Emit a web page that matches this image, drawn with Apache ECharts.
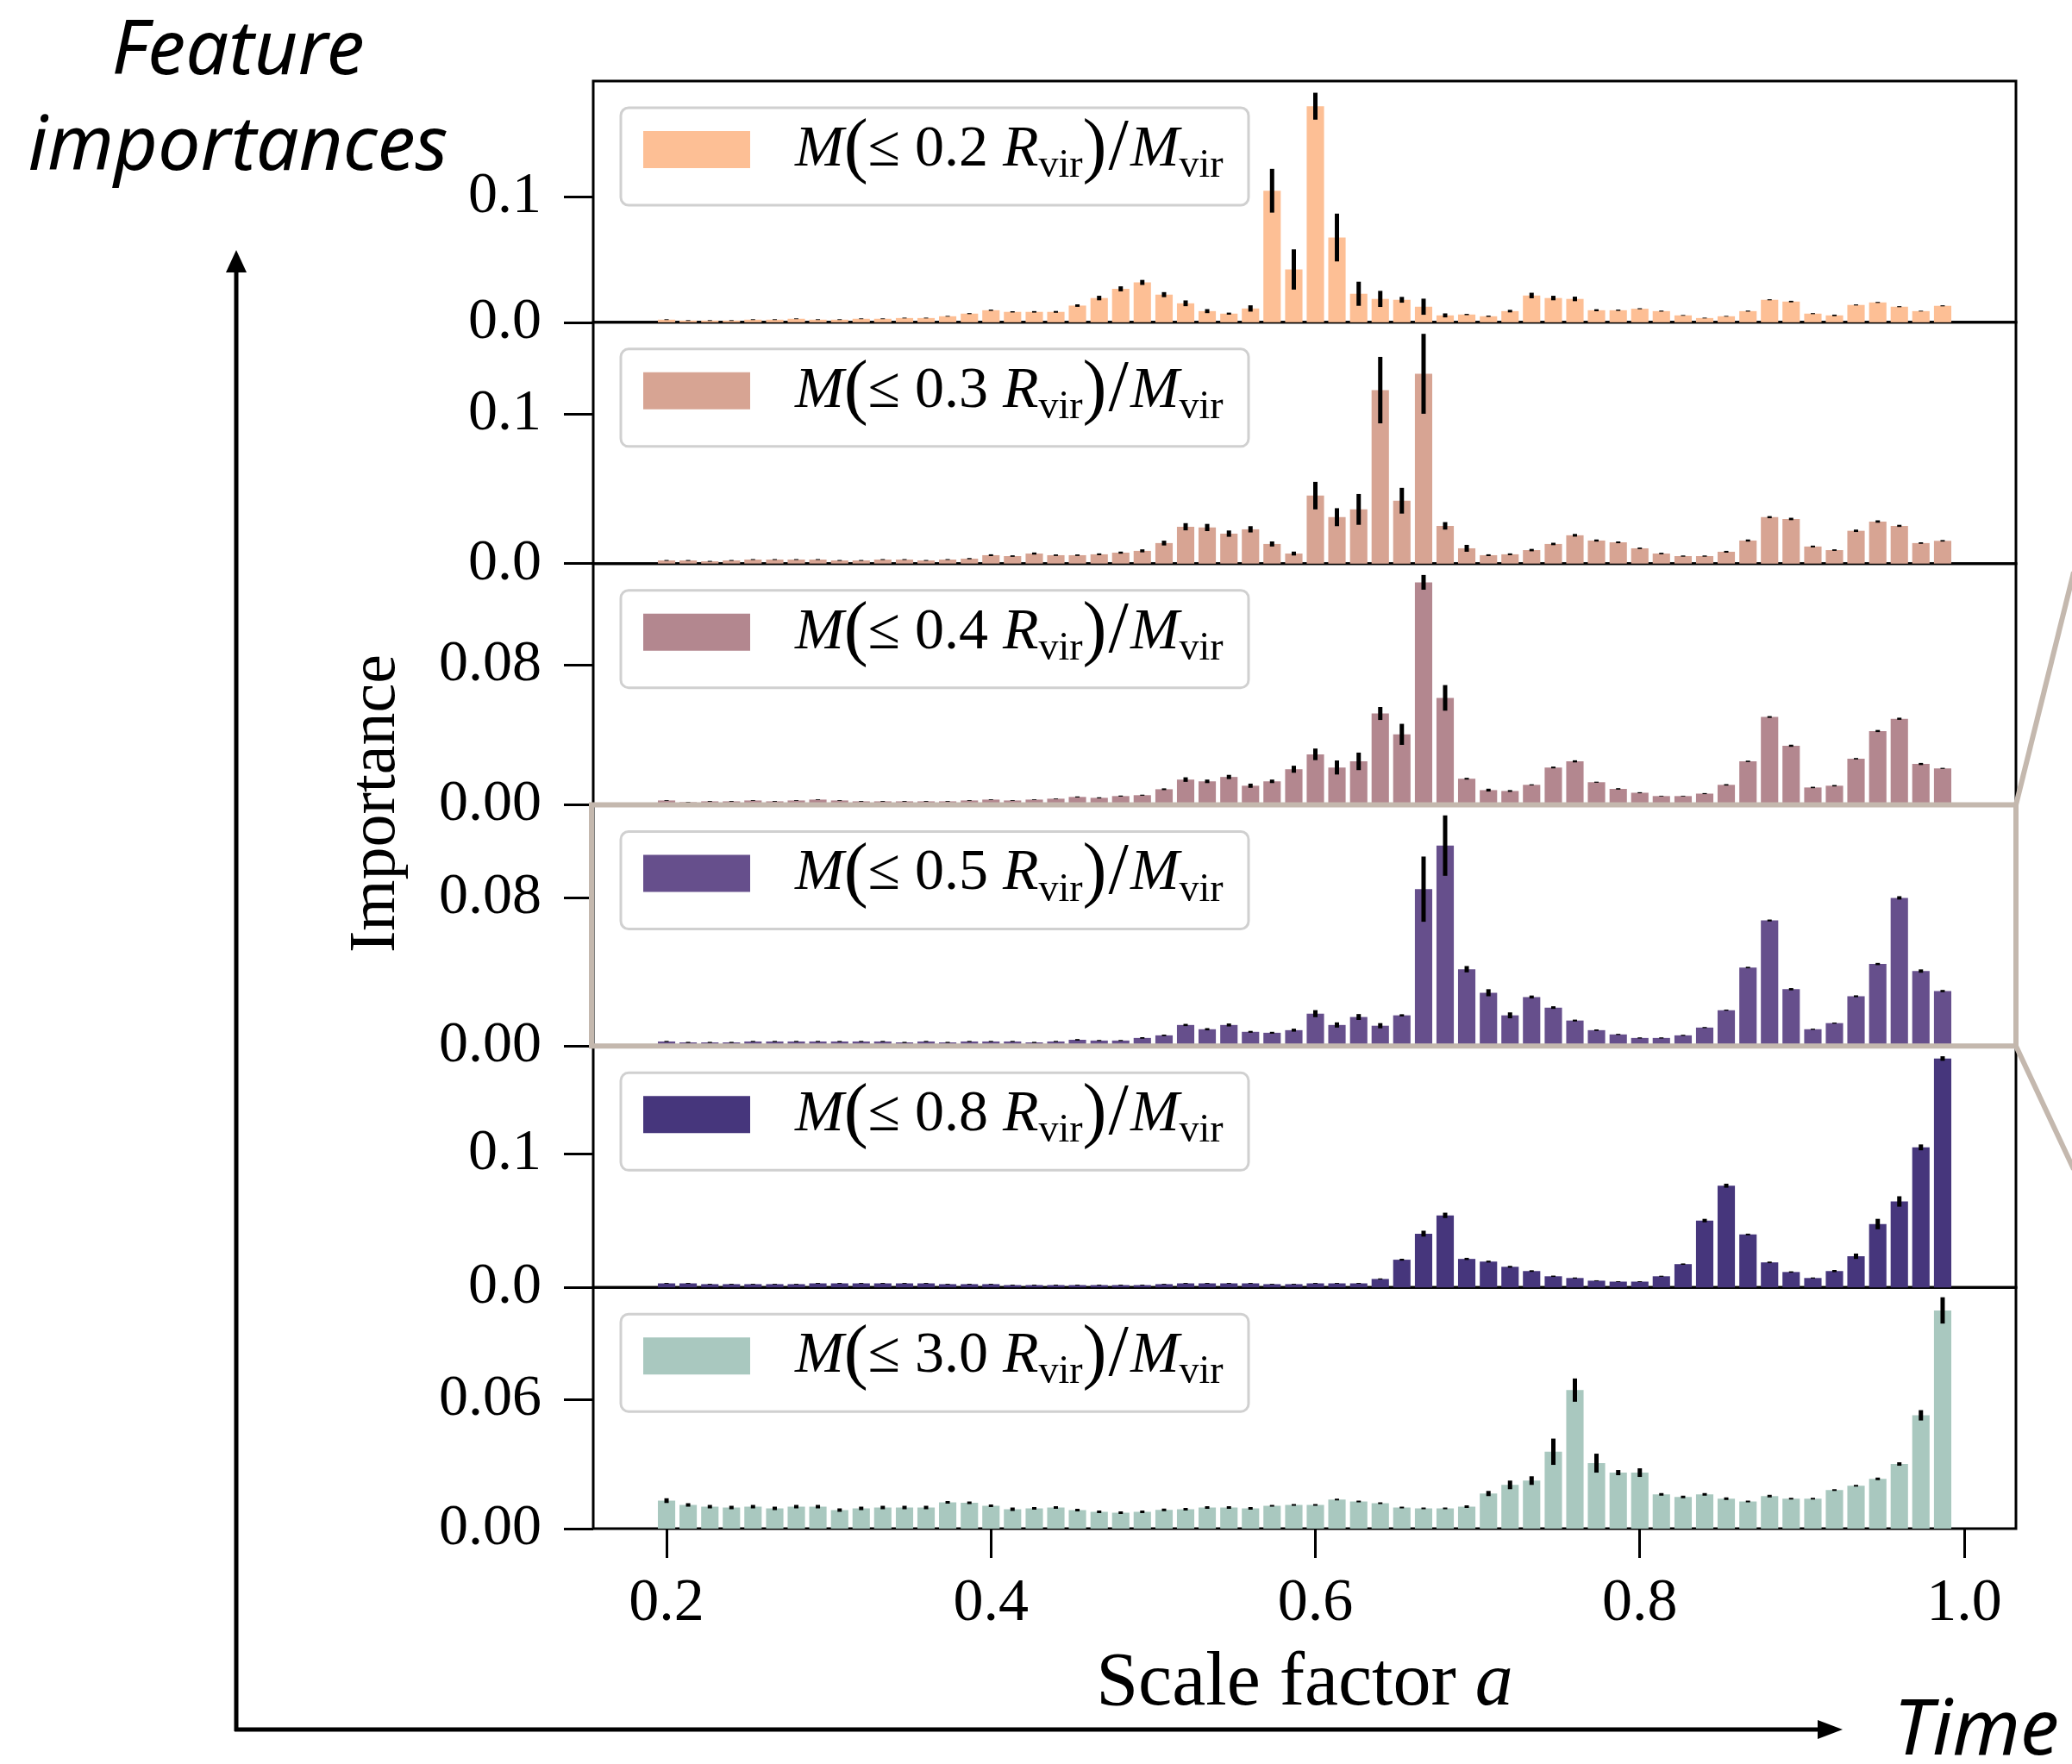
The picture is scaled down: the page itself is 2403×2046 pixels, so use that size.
<!DOCTYPE html>
<html><head><meta charset="utf-8">
<script src="https://cdn.jsdelivr.net/npm/echarts@6/dist/echarts.min.js"></script>
<style>html,body{margin:0;padding:0;background:#fff}#c{width:2403px;height:2046px}</style>
</head><body><div id="c"></div>
<script>
// ---------- data ----------
const scaleFactor = [0.2000,0.2133,0.2267,0.2400,0.2533,0.2667,0.2800,0.2933,0.3067,0.3200,
 0.3333,0.3467,0.3600,0.3733,0.3867,0.4000,0.4133,0.4267,0.4400,0.4533,
 0.4667,0.4800,0.4933,0.5067,0.5200,0.5333,0.5467,0.5600,0.5733,0.5867,
 0.6000,0.6133,0.6267,0.6400,0.6533,0.6667,0.6800,0.6933,0.7067,0.7200,
 0.7333,0.7467,0.7600,0.7733,0.7867,0.8000,0.8133,0.8267,0.8400,0.8533,
 0.8667,0.8800,0.8933,0.9067,0.9200,0.9333,0.9467,0.9600,0.9733,0.9867];
const xTicks = [0.2, 0.4, 0.6, 0.8, 1.0];
const radii = ['0.2', '0.3', '0.4', '0.5', '0.8', '3.0'];

const imp02 = [0.0021,0.0014,0.0014,0.0014,0.0021,0.0021,0.0028,0.0021,0.0021,0.0028,
 0.0028,0.0034,0.0034,0.0048,0.0069,0.0096,0.0083,0.0083,0.0083,0.0133,
 0.0193,0.0266,0.0317,0.0220,0.0151,0.0089,0.0069,0.0110,0.1046,0.0420,
 0.1718,0.0674,0.0227,0.0186,0.0179,0.0124,0.0055,0.0062,0.0048,0.0089,
 0.0213,0.0193,0.0186,0.0096,0.0096,0.0108,0.0089,0.0055,0.0034,0.0048,
 0.0089,0.0179,0.0165,0.0069,0.0055,0.0138,0.0158,0.0124,0.0089,0.0131];
const err02 = [0.0003,0.0003,0.0003,0.0003,0.0003,0.0003,0.0003,0.0003,0.0003,0.0003,
 0.0003,0.0003,0.0003,0.0003,0.0004,0.0005,0.0005,0.0006,0.0007,0.0010,
 0.0018,0.0020,0.0020,0.0020,0.0023,0.0016,0.0008,0.0025,0.0174,0.0160,
 0.0107,0.0190,0.0096,0.0064,0.0023,0.0064,0.0016,0.0005,0.0005,0.0010,
 0.0022,0.0018,0.0018,0.0008,0.0005,0.0004,0.0004,0.0003,0.0003,0.0003,
 0.0004,0.0004,0.0006,0.0004,0.0006,0.0004,0.0004,0.0004,0.0003,0.0004];

const imp03 = [0.0021,0.0021,0.0015,0.0021,0.0027,0.0027,0.0027,0.0027,0.0021,0.0021,
 0.0027,0.0027,0.0021,0.0027,0.0033,0.0056,0.0050,0.0067,0.0056,0.0056,
 0.0062,0.0073,0.0085,0.0137,0.0246,0.0241,0.0200,0.0229,0.0131,0.0067,
 0.0454,0.0310,0.0362,0.1159,0.0420,0.1268,0.0252,0.0102,0.0056,0.0062,
 0.0090,0.0131,0.0189,0.0154,0.0142,0.0102,0.0067,0.0050,0.0050,0.0079,
 0.0154,0.0310,0.0298,0.0114,0.0090,0.0219,0.0281,0.0252,0.0137,0.0152];
const err03 = [0.0003,0.0003,0.0003,0.0003,0.0003,0.0003,0.0003,0.0003,0.0003,0.0003,
 0.0003,0.0003,0.0003,0.0003,0.0004,0.0006,0.0005,0.0007,0.0005,0.0005,
 0.0006,0.0007,0.0010,0.0016,0.0024,0.0024,0.0021,0.0021,0.0017,0.0013,
 0.0092,0.0060,0.0103,0.0222,0.0086,0.0267,0.0025,0.0023,0.0006,0.0006,
 0.0008,0.0008,0.0009,0.0007,0.0006,0.0005,0.0005,0.0004,0.0004,0.0006,
 0.0007,0.0007,0.0008,0.0006,0.0005,0.0008,0.0008,0.0007,0.0005,0.0005];

const imp04 = [0.0025,0.0015,0.0020,0.0020,0.0025,0.0020,0.0025,0.0030,0.0025,0.0020,
 0.0020,0.0020,0.0020,0.0020,0.0025,0.0030,0.0025,0.0030,0.0035,0.0045,
 0.0040,0.0050,0.0055,0.0089,0.0144,0.0134,0.0159,0.0109,0.0134,0.0203,
 0.0288,0.0213,0.0248,0.0521,0.0402,0.1269,0.0610,0.0149,0.0084,0.0079,
 0.0114,0.0213,0.0248,0.0129,0.0091,0.0069,0.0050,0.0050,0.0064,0.0114,
 0.0248,0.0501,0.0337,0.0099,0.0109,0.0263,0.0421,0.0491,0.0233,0.0208];
const err04 = [0.0002,0.0002,0.0002,0.0002,0.0002,0.0002,0.0002,0.0002,0.0002,0.0002,
 0.0002,0.0002,0.0002,0.0002,0.0002,0.0002,0.0002,0.0002,0.0002,0.0003,
 0.0003,0.0003,0.0003,0.0005,0.0013,0.0010,0.0012,0.0012,0.0010,0.0020,
 0.0033,0.0040,0.0050,0.0037,0.0060,0.0042,0.0073,0.0005,0.0008,0.0005,
 0.0003,0.0005,0.0006,0.0003,0.0004,0.0003,0.0002,0.0002,0.0003,0.0004,
 0.0004,0.0005,0.0006,0.0004,0.0004,0.0004,0.0006,0.0006,0.0006,0.0003];

const imp05 = [0.0025,0.0020,0.0020,0.0020,0.0025,0.0025,0.0025,0.0025,0.0025,0.0025,
 0.0025,0.0020,0.0025,0.0020,0.0025,0.0025,0.0025,0.0020,0.0025,0.0034,
 0.0030,0.0030,0.0044,0.0058,0.0114,0.0091,0.0114,0.0077,0.0072,0.0086,
 0.0175,0.0114,0.0157,0.0110,0.0166,0.0847,0.1082,0.0415,0.0288,0.0166,
 0.0265,0.0208,0.0138,0.0086,0.0063,0.0044,0.0044,0.0058,0.0100,0.0194,
 0.0424,0.0678,0.0307,0.0091,0.0124,0.0269,0.0443,0.0800,0.0405,0.0297];
const err05 = [0.0003,0.0003,0.0003,0.0003,0.0003,0.0003,0.0003,0.0003,0.0003,0.0003,
 0.0003,0.0003,0.0003,0.0003,0.0003,0.0003,0.0003,0.0003,0.0003,0.0004,
 0.0003,0.0003,0.0004,0.0004,0.0006,0.0006,0.0008,0.0005,0.0005,0.0008,
 0.0019,0.0014,0.0016,0.0014,0.0006,0.0176,0.0163,0.0017,0.0019,0.0016,
 0.0008,0.0007,0.0005,0.0004,0.0003,0.0003,0.0003,0.0003,0.0003,0.0003,
 0.0004,0.0005,0.0006,0.0003,0.0003,0.0005,0.0006,0.0009,0.0009,0.0006];

const imp08 = [0.0030,0.0030,0.0024,0.0024,0.0024,0.0024,0.0024,0.0030,0.0030,0.0030,
 0.0030,0.0030,0.0030,0.0024,0.0024,0.0024,0.0017,0.0017,0.0017,0.0017,
 0.0017,0.0017,0.0017,0.0024,0.0030,0.0030,0.0030,0.0030,0.0024,0.0024,
 0.0030,0.0030,0.0030,0.0063,0.0207,0.0402,0.0539,0.0213,0.0193,0.0154,
 0.0122,0.0083,0.0070,0.0050,0.0043,0.0043,0.0083,0.0174,0.0500,0.0761,
 0.0396,0.0187,0.0115,0.0070,0.0122,0.0233,0.0474,0.0643,0.1048,0.1713];
const err08 = [0.0003,0.0003,0.0003,0.0003,0.0003,0.0003,0.0003,0.0003,0.0003,0.0003,
 0.0003,0.0003,0.0003,0.0003,0.0003,0.0003,0.0003,0.0003,0.0003,0.0003,
 0.0003,0.0003,0.0003,0.0003,0.0003,0.0003,0.0003,0.0003,0.0003,0.0003,
 0.0003,0.0003,0.0003,0.0004,0.0007,0.0022,0.0020,0.0008,0.0007,0.0007,
 0.0006,0.0005,0.0004,0.0003,0.0003,0.0003,0.0004,0.0005,0.0013,0.0015,
 0.0006,0.0006,0.0005,0.0004,0.0008,0.0020,0.0039,0.0039,0.0022,0.0017];

const imp30 = [0.0130,0.0110,0.0102,0.0098,0.0102,0.0094,0.0102,0.0102,0.0086,0.0094,
 0.0098,0.0098,0.0098,0.0122,0.0120,0.0106,0.0090,0.0094,0.0098,0.0086,
 0.0078,0.0074,0.0078,0.0087,0.0090,0.0098,0.0098,0.0094,0.0106,0.0110,
 0.0110,0.0135,0.0126,0.0118,0.0098,0.0094,0.0094,0.0102,0.0163,0.0203,
 0.0223,0.0357,0.0643,0.0304,0.0260,0.0260,0.0159,0.0147,0.0159,0.0139,
 0.0126,0.0151,0.0139,0.0139,0.0179,0.0199,0.0231,0.0300,0.0526,0.1013];
const err30 = [0.0011,0.0008,0.0008,0.0008,0.0008,0.0008,0.0008,0.0008,0.0008,0.0008,
 0.0008,0.0008,0.0008,0.0006,0.0006,0.0006,0.0008,0.0006,0.0006,0.0006,
 0.0006,0.0006,0.0006,0.0006,0.0006,0.0006,0.0006,0.0006,0.0004,0.0004,
 0.0004,0.0004,0.0004,0.0004,0.0004,0.0004,0.0004,0.0006,0.0012,0.0020,
 0.0020,0.0061,0.0054,0.0044,0.0012,0.0020,0.0006,0.0006,0.0006,0.0006,
 0.0004,0.0006,0.0004,0.0004,0.0004,0.0004,0.0006,0.0008,0.0024,0.0061];

const yMaxes = [0.1918, 0.1612, 0.1376, 0.1302, 0.1806, 0.1120];
const yTickSteps = [0.1, 0.1, 0.08, 0.08, 0.1, 0.06];
const yDecimals = [1, 1, 2, 2, 1, 2];

// ---------- styling ----------
const colors = ['#fdbf95', '#d7a493', '#b3878f', '#664f8c', '#46367c', '#a9c8bf'];
const values = [imp02, imp03, imp04, imp05, imp08, imp30];
const errors = [err02, err03, err04, err05, err08, err30];

const L = 688, R = 2338, TOP = 94, BOT = 1773;
const PH = (BOT - TOP) / 6;
const xMin = 0.1548, xMax = 1.0319;
const barW = 0.0107;
const SERIF = 'Liberation Serif';
const frameColor = '#c4b8ae';

const grids = [], xAxes = [], yAxes = [], series = [], graphics = [];

for (let k = 0; k < 6; k++) {
  const top = TOP + k * PH;
  grids.push({left: L, top: top, width: R - L, height: PH, show: true,
    borderColor: '#000', borderWidth: 3, backgroundColor: 'transparent', z: 0});
  xAxes.push({type: 'value', gridIndex: k, min: xMin, max: xMax,
    axisLine: {show: false}, splitLine: {show: false},
    axisTick: {show: k === 5, length: 34, lineStyle: {width: 3, color: '#000'}, customValues: xTicks},
    axisLabel: {show: k === 5, customValues: xTicks, formatter: v => v.toFixed(1), margin: 53,
      fontFamily: SERIF, fontSize: 70, color: '#000'}});
  const yv = [0, yTickSteps[k]];
  yAxes.push({type: 'value', gridIndex: k, min: 0, max: yMaxes[k],
    axisLine: {show: false}, splitLine: {show: false},
    axisTick: {show: true, length: 34, lineStyle: {width: 3, color: '#000'}, customValues: yv},
    axisLabel: {customValues: yv, formatter: v => v.toFixed(yDecimals[k]), margin: 60,
      fontFamily: SERIF, fontSize: 68, color: '#000'}});
  const col = colors[k];
  series.push({type: 'custom', xAxisIndex: k, yAxisIndex: k, clip: false, z: 2,
    data: scaleFactor.map((a, i) => [a, values[k][i], errors[k][i]]),
    encode: {x: 0, y: 1},
    renderItem: (params, api) => {
      const x = api.value(0), v = api.value(1), e = api.value(2);
      const p0 = api.coord([x - barW / 2, v]);
      const p1 = api.coord([x + barW / 2, 0]);
      const t = api.coord([x, v + e]), b = api.coord([x, v - e]);
      return {type: 'group', children: [
        {type: 'rect', shape: {x: p0[0], y: p0[1], width: p1[0] - p0[0], height: p1[1] - p0[1]},
         style: {fill: col}},
        {type: 'line', shape: {x1: t[0], y1: t[1], x2: b[0], y2: b[1]},
         style: {stroke: '#000', lineWidth: 5}}
      ]};
    }});
  // legend box
  graphics.push({type: 'rect', z: 20, shape: {x: 720, y: top + 31, width: 728, height: 113, r: 9},
    style: {fill: 'rgba(255,255,255,0.85)', stroke: '#d0d0d0', lineWidth: 3}});
  graphics.push({type: 'rect', z: 21, shape: {x: 746, y: top + 58, width: 124, height: 43},
    style: {fill: col}});
  graphics.push({type: 'text', z: 21, x: 922, y: top + 80, style: {
    text: '{it|M}{big|(}{rm|≤ ' + radii[k] + ' }{it|R}{sub|vir}{big|)}{sl|/}{it|M}{sub|vir}',
    verticalAlign: 'middle', align: 'left',
    rich: {
      it: {fontFamily: SERIF, fontStyle: 'italic', fontSize: 68, fill: '#000'},
      rm: {fontFamily: SERIF, fontSize: 68, fill: '#000'},
      big: {fontFamily: SERIF, fontSize: 84, fill: '#000'},
      sl: {fontFamily: SERIF, fontSize: 84, fill: '#000', padding: [0, 2, 0, 2]},
      sub: {fontFamily: SERIF, fontSize: 46, fill: '#000', verticalAlign: 'top', padding: [38, 0, 0, 0]}
    }}});
}

// highlight frame around the 0.5 R_vir panel
const fTop = TOP + 3 * PH, fBot = TOP + 4 * PH;
graphics.push({type: 'rect', z: 30, shape: {x: 686, y: fTop, width: R - 686, height: fBot - fTop},
  style: {fill: 'none', stroke: frameColor, lineWidth: 6}});
graphics.push({type: 'line', z: 30, shape: {x1: R, y1: fTop, x2: 2405, y2: fTop - 270},
  style: {stroke: frameColor, lineWidth: 6}});
graphics.push({type: 'line', z: 30, shape: {x1: R, y1: fBot, x2: 2405, y2: fBot + 143},
  style: {stroke: frameColor, lineWidth: 6}});

// axis titles
graphics.push({type: 'text', z: 10, x: 1513, y: 1954, style: {
  text: '{rm|Scale factor }{it|a}', align: 'center', verticalAlign: 'middle',
  rich: {rm: {fontFamily: SERIF, fontSize: 88, fill: '#000'},
         it: {fontFamily: SERIF, fontStyle: 'italic', fontSize: 88, fill: '#000'}}}});
graphics.push({type: 'text', z: 10, x: 437, y: 932, rotation: Math.PI / 2, style: {
  text: 'Importance', align: 'center', verticalAlign: 'middle',
  fontFamily: SERIF, fontSize: 76, fill: '#000'}});

// outer annotation
const SANS = 'Noto Sans';
graphics.push({type: 'text', z: 10, x: 276, y: 61, style: {text: 'Feature', align: 'center', verticalAlign: 'middle',
  fontFamily: SANS, fontStyle: 'italic', fontSize: 88, fill: '#000'}});
graphics.push({type: 'text', z: 10, x: 276, y: 172, style: {text: 'importances', align: 'center', verticalAlign: 'middle',
  fontFamily: SANS, fontStyle: 'italic', fontSize: 88, fill: '#000'}});
graphics.push({type: 'text', z: 10, x: 2196, y: 2009, style: {text: 'Time', align: 'left', verticalAlign: 'middle',
  fontFamily: SANS, fontStyle: 'italic', fontSize: 90, fill: '#000'}});
graphics.push({type: 'line', z: 10, shape: {x1: 274, y1: 2008, x2: 274, y2: 310}, style: {stroke: '#000', lineWidth: 5}});
graphics.push({type: 'polygon', z: 10, shape: {points: [[274, 290], [262, 316], [286, 316]]}, style: {fill: '#000'}});
graphics.push({type: 'line', z: 10, shape: {x1: 272, y1: 2006, x2: 2115, y2: 2006}, style: {stroke: '#000', lineWidth: 5}});
graphics.push({type: 'polygon', z: 10, shape: {points: [[2137, 2006], [2108, 1995], [2108, 2017]]}, style: {fill: '#000'}});

const chart = echarts.init(document.getElementById('c'), null, {renderer: 'canvas', width: 2403, height: 2046});
chart.setOption({
  backgroundColor: '#fff',
  animation: false,
  grid: grids, xAxis: xAxes, yAxis: yAxes, series: series,
  graphic: graphics
});
</script></body></html>
